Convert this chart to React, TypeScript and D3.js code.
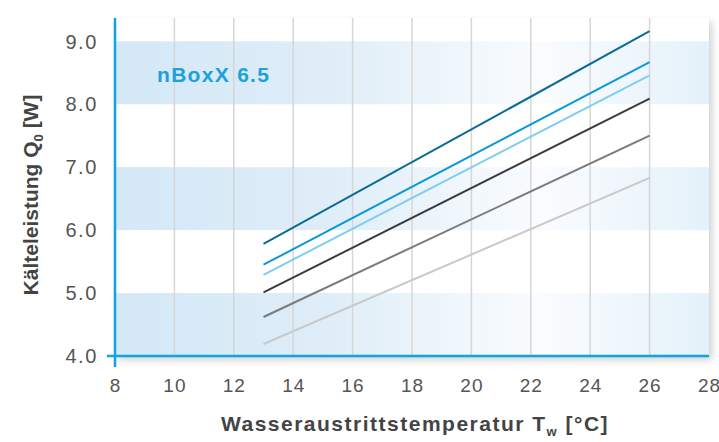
import { scaleLinear, line as d3_line } from "d3";

// Wassertemperatur (°C) und Kälteleistung Q0 (W)
const temps = [13, 26];
const series = [
  { name: "s1", color: "#0b6b96", values: [5.78, 9.16] },
  { name: "s2", color: "#0a98d8", values: [5.45, 8.67] },
  { name: "s3", color: "#82cdf0", values: [5.29, 8.46] },
  { name: "s4", color: "#3b3b3b", values: [5.01, 8.09] },
  { name: "s5", color: "#7b7b7b", values: [4.62, 7.5] },
  { name: "s6", color: "#c9c9c9", values: [4.19, 6.83] },
];
const xTicks = [8, 10, 12, 14, 16, 18, 20, 22, 24, 26, 28];
const yTicks = [4, 5, 6, 7, 8, 9];
const bands = [
  [4, 5],
  [6, 7],
  [8, 9],
];
const title = "nBoxX 6.5";

const W = 719;
const H = 442;
const font = "'Liberation Sans', Arial, sans-serif";

export default function App() {
  const x = scaleLinear().domain([8, 28]).range([115, 709]);
  const y = scaleLinear().domain([4, 9]).range([356, 41.3]);
  const top = 18;

  const line = d3_line<number>()
    .x((_, i) => x(temps[i]))
    .y((v) => y(v));

  return (
    <svg
      width={W}
      height={H}
      style={{ position: "absolute", left: 0, top: 0, background: "#fff" }}
    >
      <defs>
        <filter id="shadow" x="-5%" y="-5%" width="115%" height="120%">
          <feDropShadow dx="3" dy="4" stdDeviation="3.5" floodColor="#000" floodOpacity="0.18" />
        </filter>
        <linearGradient id="band" x1="0" x2="1" y1="0" y2="0">
          <stop offset="0" stopColor="#d4e8f6" />
          <stop offset="0.35" stopColor="#deedf8" />
          <stop offset="0.72" stopColor="#fafcfe" />
          <stop offset="1" stopColor="#e4f1fa" />
        </linearGradient>
      </defs>

      {/* Plot card */}
      <rect
        x={x(8)}
        y={top}
        width={x(28) - x(8)}
        height={y(4) - top}
        fill="#fff"
        filter="url(#shadow)"
      />
      {bands.map(([a, b], i) => (
        <rect
          key={i}
          x={x(8)}
          y={y(b)}
          width={x(28) - x(8)}
          height={y(a) - y(b)}
          fill="url(#band)"
        />
      ))}

      {/* Grid lines */}
      {xTicks
        .filter((t) => t > 8 && t < 28)
        .map((t) => (
          <line
            key={t}
            x1={x(t)}
            x2={x(t)}
            y1={top}
            y2={y(4)}
            stroke="#d6d6d6"
            strokeWidth={1.5}
          />
        ))}

      {/* Series */}
      {series.map((s) => (
        <path
          key={s.name}
          d={line(s.values) ?? ""}
          fill="none"
          stroke={s.color}
          strokeWidth={2}
        />
      ))}

      {/* Axes */}
      <line x1={x(8)} x2={x(8)} y1={top} y2={y(4) + 11} stroke="#0ea5e2" strokeWidth={2.5} />
      <line x1={x(8) - 8} x2={x(28)} y1={y(4)} y2={y(4)} stroke="#0ea5e2" strokeWidth={2.5} />

      {/* Y tick labels */}
      {yTicks.map((t) => (
        <text
          key={t}
          x={98}
          y={y(t)}
          dy="0.36em"
          textAnchor="end"
          fontFamily={font}
          fontSize={20}
          letterSpacing={1.6}
          fill="#555"
        >
          {t.toFixed(1)}
        </text>
      ))}

      {/* X tick labels */}
      {xTicks.map((t) => (
        <text
          key={t}
          x={x(t) + 0.5}
          y={392}
          textAnchor="middle"
          fontFamily={font}
          fontSize={19}
          letterSpacing={1}
          fill="#555"
        >
          {t}
        </text>
      ))}

      <text
        x={157}
        y={82}
        fontFamily={font}
        fontSize={21}
        fontWeight="bold"
        letterSpacing={1.3}
        fill="#1ba1dd"
      >
        {title}
      </text>

      {/* Axis titles */}
      <text
        x={415}
        y={431}
        textAnchor="middle"
        fontFamily={font}
        fontSize={21}
        fontWeight="bold"
        letterSpacing={1.5}
        fill="#444"
      >
        Wasseraustrittstemperatur T
        <tspan fontSize={13} dy={5}>w</tspan>
        <tspan dy={-5}> [°C]</tspan>
      </text>
      <text
        transform={`translate(38,195) rotate(-90)`}
        textAnchor="middle"
        fontFamily={font}
        fontSize={21}
        fontWeight="bold"
        fill="#444"
      >
        Kälteleistung Q
        <tspan fontSize={13} dy={5}>0</tspan>
        <tspan dy={-5}> [W]</tspan>
      </text>
    </svg>
  );
}
